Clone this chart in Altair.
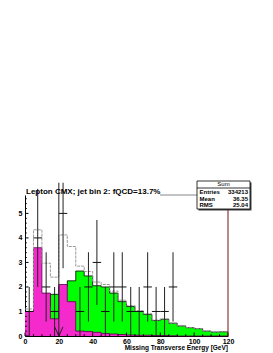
import math
import altair as alt
import pandas as pd

# ---------------- data ----------------
bin_edges = [0, 5, 10, 15, 20, 25, 30, 35, 40, 45, 50, 55, 60,
             65, 70, 75, 80, 85, 90, 95, 100, 105, 110, 115, 120]
w_jets = [0.10, 0.73, 1.22, 1.70, 2.02, 2.25, 2.65, 2.45, 2.05, 2.00, 1.75, 1.40,
          1.20, 1.00, 0.88, 0.63, 0.68, 0.52, 0.41, 0.34, 0.30, 0.20, 0.16, 0.17]
qcd = [1.00, 3.60, 1.75, 0.70, 2.10, 1.40, 0.20, 0.18, 0.15, 0.10, 0.08, 0.06,
       0.04, 0.03, 0.03, 0.02, 0.02, 0.01, 0.0, 0.0, 0.0, 0.0, 0.0, 0.0]
data_counts = [1, 4, 2, 1, 5, 0, 1, 2, 3, 1, 2, 2,
               1, 1, 2, 1, 1, 2, 0, 0, 0, 0, 0, 0]

x_ticks_major = [0, 20, 40, 60, 80, 100, 120]
x_ticks_minor = [v for v in range(0, 121, 5) if v % 20 != 0]
y_ticks_major = [0, 1, 2, 3, 4, 5]
y_ticks_minor = [round(i * 0.2, 1) for i in range(0, 29) if i % 5 != 0]

stat_header = "Sum"
stat_labels = ["Entries", "Mean", "RMS"]
stat_values = ["334213", "36.35", "25.04"]
title_text = "Lepton CMX; jet bin 2: fQCD=13.7%"
x_title = "Missing Transverse Energy [GeV]"
cut_value = 20
pad_top_value = 6.25   # lines are clipped by the pad, not the frame

# ---------------- style ----------------
W, H = 203, 141
FONT = "Liberation Sans"
GREEN = "#00ff00"
MAGENTA = "#f52acd"

xs = alt.Scale(domain=[0, 120], nice=False, zero=False)
ys = alt.Scale(domain=[0, 5.75], nice=False, zero=True)

x_axis = alt.Axis(values=x_ticks_major, ticks=False, grid=False, domain=True,
                  domainColor="black", domainWidth=1, labelFont=FONT,
                  labelFontSize=7, labelFontWeight="bold", labelColor="black",
                  labelPadding=1.5, labelFlush=False, format="d", title=None)
y_axis = alt.Axis(values=y_ticks_major, ticks=False, grid=False, domain=True,
                  domainColor="black", domainWidth=1, labelFont=FONT,
                  labelFontSize=7, labelFontWeight="bold", labelColor="black",
                  labelPadding=3, format="d", title=None)


def X(f):
    return alt.X(f, type="quantitative", scale=xs, axis=x_axis)


def Y(f):
    return alt.Y(f, type="quantitative", scale=ys, axis=y_axis)


def step_df(vals):
    return pd.DataFrame({"x": bin_edges, "y": list(vals) + [vals[-1]]})


total = [a + b for a, b in zip(w_jets, qcd)]

green_fill = alt.Chart(step_df(w_jets)).mark_area(
    interpolate="step-after", color=GREEN, opacity=1).encode(x=X("x"), y=Y("y"))
green_line = alt.Chart(step_df(w_jets)).mark_line(
    interpolate="step-after", color="black", strokeWidth=0.8).encode(x=X("x"), y=Y("y"))
mag_fill = alt.Chart(step_df(qcd)).mark_area(
    interpolate="step-after", color=MAGENTA, opacity=1).encode(x=X("x"), y=Y("y"))
mag_line = alt.Chart(step_df(qcd)).mark_line(
    interpolate="step-after", color="#550044", strokeWidth=0.8).encode(x=X("x"), y=Y("y"))
tot_line = alt.Chart(step_df(total)).mark_line(
    interpolate="step-after", color="#9a9a9a", strokeWidth=1,
    strokeDash=[3, 1]).encode(x=X("x"), y=Y("y"))

rows = []
for i, n in enumerate(data_counts):
    if n <= 0:
        continue
    lo_e, hi_e = bin_edges[i], bin_edges[i + 1]
    rows.append({"c": (lo_e + hi_e) / 2, "xlo": lo_e, "xhi": hi_e, "n": n,
                 "lo": max(n - math.sqrt(n), 0),
                 "hi": min(n + math.sqrt(n), pad_top_value)})
pts = pd.DataFrame(rows)

err_v = alt.Chart(pts).mark_rule(color="#222222", strokeWidth=1, clip=False).encode(
    x=X("c"), y=Y("lo"), y2="hi")
err_h = alt.Chart(pts).mark_rule(color="#111111", strokeWidth=1).encode(
    x=X("xlo"), x2="xhi", y=Y("n"))

# inside ticks
yt_major = alt.Chart(pd.DataFrame({"v": y_ticks_major})).mark_rule(
    color="black", strokeWidth=1).encode(x=alt.value(0), x2=alt.value(3.5), y=Y("v"))
yt_minor = alt.Chart(pd.DataFrame({"v": y_ticks_minor})).mark_rule(
    color="black", strokeWidth=1).encode(x=alt.value(0), x2=alt.value(1.8), y=Y("v"))
xt_major = alt.Chart(pd.DataFrame({"v": x_ticks_major})).mark_rule(
    color="black", strokeWidth=1).encode(y=alt.value(H), y2=alt.value(H - 3.5), x=X("v"))
xt_minor = alt.Chart(pd.DataFrame({"v": x_ticks_minor})).mark_rule(
    color="black", strokeWidth=1).encode(y=alt.value(H), y2=alt.value(H - 1.8), x=X("v"))

one = pd.DataFrame({"a": [0]})
frame_right = alt.Chart(one).mark_rule(color="#7a1010", strokeWidth=1).encode(
    x=alt.value(W), y=alt.value(14), y2=alt.value(H))
frame_top = alt.Chart(one).mark_rule(color="#888888", strokeWidth=1).encode(
    x=alt.value(135), x2=alt.value(172), y=alt.value(0))

cut_df = pd.DataFrame({"x": [cut_value], "y0": [0], "y1": [pad_top_value]})
arrow_shaft = alt.Chart(cut_df).mark_rule(color="#222222", strokeWidth=1, clip=False).encode(
    x=X("x"), y=Y("y0"), y2="y1")
arrow_head = alt.Chart(cut_df).mark_point(
    shape="M -1 -2.2 L 0 0 L 1 -2.2", filled=False, size=70, strokeWidth=1,
    color="#222222", opacity=1).encode(x=X("x"), y=Y("y0"))

title = alt.Chart(one).mark_text(
    text=title_text, align="left", baseline="alphabetic", font=FONT, fontSize=8,
    fontWeight="bold", color="black").encode(x=alt.value(1), y=alt.value(-1.5))
xtitle = alt.Chart(one).mark_text(
    text=x_title, align="right", baseline="alphabetic", font=FONT, fontSize=6.5,
    fontWeight="bold", color="black").encode(x=alt.value(W), y=alt.value(H + 14))

bx0, bx1, by0, by1 = 172, 225, -14, 14
box_shadow = alt.Chart(one).mark_rect(color="#444444").encode(
    x=alt.value(bx0 + 1.5), x2=alt.value(bx1 + 1.5), y=alt.value(by0 + 1.5), y2=alt.value(by1 + 1.5))
box = alt.Chart(one).mark_rect(fill="white", stroke="black", strokeWidth=0.8).encode(
    x=alt.value(bx0), x2=alt.value(bx1), y=alt.value(by0), y2=alt.value(by1))
box_sep = alt.Chart(one).mark_rule(color="black", strokeWidth=0.8).encode(
    x=alt.value(bx0), x2=alt.value(bx1), y=alt.value(-7))
box_head = alt.Chart(one).mark_text(
    text=stat_header, align="center", baseline="alphabetic", font=FONT, fontSize=6,
    color="black").encode(x=alt.value((bx0 + bx1) / 2), y=alt.value(-8.6))

stat_df = pd.DataFrame({"lab": stat_labels, "val": stat_values,
                        "yy": [-1.3, 5.6, 12.4]})
stat_lab = alt.Chart(stat_df).mark_text(
    align="left", baseline="alphabetic", font=FONT, fontSize=6, fontWeight="bold",
    color="black").encode(x=alt.value(bx0 + 2.5), y=alt.Y("yy:Q", scale=None), text="lab:N")
stat_val = alt.Chart(stat_df).mark_text(
    align="right", baseline="alphabetic", font=FONT, fontSize=6, fontWeight="bold",
    color="black").encode(x=alt.value(bx1 - 2), y=alt.Y("yy:Q", scale=None), text="val:N")

chart = alt.layer(
    green_fill, green_line, mag_fill, mag_line, tot_line,
    err_v, err_h, yt_major, yt_minor, xt_major, xt_minor,
    frame_right, frame_top, arrow_shaft, arrow_head, title, xtitle,
    box_shadow, box, box_sep, box_head, stat_lab, stat_val,
).properties(
    width=W, height=H,
    autosize=alt.AutoSizeParams(type="none"),
    padding={"left": 17, "top": 187, "right": 37, "bottom": 16},
    background="white",
).configure_view(stroke=None)

chart.save("out.html", embed_options={"renderer": "svg", "actions": False})
